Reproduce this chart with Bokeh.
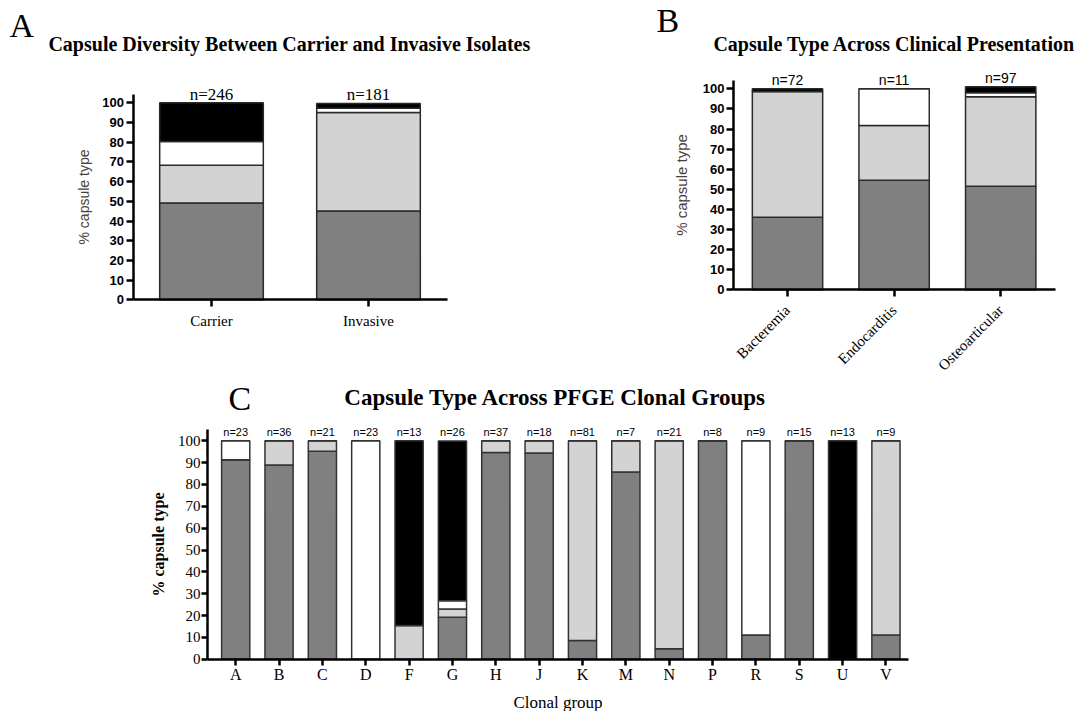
from bokeh.plotting import figure
from bokeh.layouts import column, row
from bokeh.models import ColumnDataSource, Range1d, FixedTicker, Label
from bokeh.embed import file_html
from bokeh.resources import INLINE
from bokeh.core.properties import value

layers = ["dark", "light", "white", "black"]
layer_colors = ["#808080", "#d3d3d3", "#ffffff", "#000000"]

# ---------------- Panel A data ----------------
a_groups = ["Carrier", "Invasive"]
a_n = [246, 181]
a_dark = [49.2, 45.1]
a_light = [19.1, 50.0]
a_white = [12.0, 2.1]
a_black = [19.7, 2.5]

# ---------------- Panel B data ----------------
b_groups = ["Bacteremia", "Endocarditis", "Osteoarticular"]
b_n = [72, 11, 97]
b_dark = [36.1, 54.5, 51.5]
b_light = [62.5, 27.3, 44.5]
b_white = [0.0, 18.2, 2.0]
b_black = [1.4, 0.0, 3.0]

# ---------------- Panel C data ----------------
c_groups = ["A", "B", "C", "D", "F", "G", "H", "J", "K", "M", "N", "P", "R", "S", "U", "V"]
c_n = [23, 36, 21, 23, 13, 26, 37, 18, 81, 7, 21, 8, 9, 15, 13, 9]
c_dark = [91.3, 88.9, 95.2, 0, 0, 19.2, 94.6, 94.4, 8.6, 85.7, 4.8, 100, 11.1, 100, 0, 11.1]
c_light = [0, 11.1, 4.8, 0, 15.4, 3.8, 5.4, 5.6, 91.4, 14.3, 95.2, 0, 0, 0, 0, 88.9]
c_white = [8.7, 0, 0, 100, 0, 3.8, 0, 0, 0, 0, 0, 0, 88.9, 0, 0, 0]
c_black = [0, 0, 0, 0, 84.6, 73.1, 0, 0, 0, 0, 0, 0, 0, 0, 100, 0]

SERIF = "Liberation Serif"
SANS = "Liberation Sans"


def make_source(groups, n, dark, light, white, black):
    x = list(range(len(groups)))
    tops = [d + l + w + b for d, l, w, b in zip(dark, light, white, black)]
    return ColumnDataSource(dict(x=x, dark=dark, light=light, white=white, black=black,
                                 top=tops, lab=["n=%d" % v for v in n]))


class Panel:
    """Figure whose frame fills its whole canvas; page pixel -> data helpers."""

    def __init__(self, X0, Y0, W, H, cat0_px, kx, zero_px, ky, axis_left_px, axis_right_px):
        self.X0, self.Y0, self.W, self.H = X0, Y0, W, H
        self.c0, self.kx, self.z0, self.ky = cat0_px, kx, zero_px, ky
        xs = self.dx(X0)
        xe = self.dx(X0 + W)
        ys = self.dy(Y0 + H)
        ye = self.dy(Y0)
        self.p = figure(width=W, height=H, x_range=Range1d(xs, xe), y_range=Range1d(ys, ye),
                        output_backend="svg", toolbar_location=None, min_border=0)
        self.axl = self.dx(axis_left_px)
        self.axr = self.dx(axis_right_px)

    def dx(self, px):
        return (px - self.c0) / self.kx

    def dy(self, py):
        return (self.z0 - py) / self.ky


def style_axes(P, groups, lw, tick_out, ytop):
    p = P.p
    p.xgrid.grid_line_color = None
    p.ygrid.grid_line_color = None
    p.outline_line_color = None
    p.background_fill_color = None
    p.border_fill_color = None
    for ax in (p.xaxis[0], p.yaxis[0]):
        ax.axis_line_width = lw
        ax.axis_line_color = "black"
        ax.major_tick_line_width = lw
        ax.major_tick_line_color = "black"
        ax.major_tick_out = tick_out
        ax.major_tick_in = 0
        ax.minor_tick_line_color = None
    xa, ya = p.xaxis[0], p.yaxis[0]
    xa.fixed_location = 0
    xa.bounds = (P.axl, P.axr)
    xa.ticker = FixedTicker(ticks=list(range(len(groups))))
    xa.major_label_overrides = {i: g for i, g in enumerate(groups)}
    ya.fixed_location = P.axl
    ya.bounds = (0, ytop)
    ya.ticker = FixedTicker(ticks=list(range(0, 101, 10)))


def add_text(P, xpx, ypx, text, size, bold=False, align="left"):
    P.p.add_layout(Label(x=P.dx(xpx), y=P.dy(ypx), text=text, text_font=SERIF,
                         text_font_size=size, text_font_style="bold" if bold else "normal",
                         text_color="black", text_align=align, text_baseline="alphabetic"))


ROW_H = 376

# ================= Panel A =================
A = Panel(0, 0, 600, ROW_H, cat0_px=211.0, kx=157.0, zero_px=299.3, ky=1.97,
          axis_left_px=132.5, axis_right_px=447.0)
srcA = make_source(a_groups, a_n, a_dark, a_light, a_white, a_black)
pA = A.p
pA.vbar_stack(layers, x="x", width=0.66, source=srcA, fill_color=layer_colors,
              line_color="#2a2a2a", line_width=1.5)
pA.text(x="x", y="top", text="lab", source=srcA, text_align="center", text_baseline="bottom",
        text_font=value(SERIF), text_font_size="17px", text_color="black", y_offset=1)
style_axes(A, a_groups, 2.5, 7, 104)
ya = pA.yaxis[0]
ya.major_label_text_font = SANS
ya.major_label_text_font_style = "bold"
ya.major_label_text_font_size = "13px"
ya.major_label_text_color = "black"
ya.major_label_standoff = 2
ya.axis_label = "% capsule type"
ya.axis_label_text_font = SANS
ya.axis_label_text_font_style = "normal"
ya.axis_label_text_font_size = "14px"
ya.axis_label_text_color = "#4a3f3a"
ya.axis_label_standoff = 8
xa = pA.xaxis[0]
xa.major_label_text_font = SERIF
xa.major_label_text_font_size = "15px"
xa.major_label_text_color = "black"
xa.major_label_standoff = 6
add_text(A, 9, 25, "A", "34px")
add_text(A, 289, 43, "Capsule Diversity Between Carrier and Invasive Isolates", "20px",
         bold=True, align="center")

# ================= Panel B =================
B = Panel(600, 0, 480, ROW_H, cat0_px=787.0, kx=106.6, zero_px=289.3, ky=2.01,
          axis_left_px=733.0, axis_right_px=1055.0)
srcB = make_source(b_groups, b_n, b_dark, b_light, b_white, b_black)
pB = B.p
pB.vbar_stack(layers, x="x", width=0.66, source=srcB, fill_color=layer_colors,
              line_color="#2a2a2a", line_width=1.5)
pB.text(x="x", y="top", text="lab", source=srcB, text_align="center", text_baseline="bottom",
        text_font=value(SANS), text_font_size="14px", text_color="black", y_offset=-1)
style_axes(B, b_groups, 2.5, 7, 104)
ya = pB.yaxis[0]
ya.major_label_text_font = SANS
ya.major_label_text_font_style = "bold"
ya.major_label_text_font_size = "13px"
ya.major_label_text_color = "black"
ya.major_label_standoff = 2
ya.axis_label = "% capsule type"
ya.axis_label_text_font = SANS
ya.axis_label_text_font_style = "normal"
ya.axis_label_text_font_size = "15px"
ya.axis_label_text_color = "#4a3f3a"
ya.axis_label_standoff = 10
xa = pB.xaxis[0]
xa.major_label_text_font = SERIF
xa.major_label_text_font_size = "15px"
xa.major_label_text_color = "black"
xa.major_label_orientation = 0.785398
xa.major_label_standoff = 11
add_text(B, 656, 20, "B", "34px")
add_text(B, 894, 43, "Capsule Type Across Clinical Presentation", "20px", bold=True, align="center")

# ================= Panel C =================
C = Panel(0, ROW_H, 1080, 335, cat0_px=235.2, kx=43.35, zero_px=658.7, ky=2.184,
          axis_left_px=207.0, axis_right_px=908.0)
srcC = make_source(c_groups, c_n, c_dark, c_light, c_white, c_black)
pC = C.p
pC.vbar_stack(layers, x="x", width=0.65, source=srcC, fill_color=layer_colors,
              line_color="#333333", line_width=1.5)
pC.text(x="x", y="top", text="lab", source=srcC, text_align="center", text_baseline="bottom",
        text_font=value(SANS), text_font_size="11px", text_color="black", y_offset=-3)
style_axes(C, c_groups, 2.5, 6, 105)
ya = pC.yaxis[0]
ya.major_label_text_font = SERIF
ya.major_label_text_font_size = "15px"
ya.major_label_text_color = "black"
ya.major_label_standoff = 1
ya.axis_label = "% capsule type"
ya.axis_label_text_font = SERIF
ya.axis_label_text_font_style = "bold"
ya.axis_label_text_font_size = "16px"
ya.axis_label_text_color = "black"
ya.axis_label_standoff = 8
xa = pC.xaxis[0]
xa.major_label_text_font = SERIF
xa.major_label_text_font_size = "16px"
xa.major_label_text_color = "black"
xa.major_label_standoff = 1
xa.axis_label = "Clonal group"
xa.axis_label_text_font = SERIF
xa.axis_label_text_font_style = "normal"
xa.axis_label_text_font_size = "17px"
xa.axis_label_text_color = "black"
xa.axis_label_standoff = 6
add_text(C, 228, 398, "C", "34px")
add_text(C, 555, 397, "Capsule Type Across PFGE Clonal Groups", "23px", bold=True, align="center")

layout = column(row(pA, pB), pC)
open("out.html", "w").write(file_html(layout, INLINE))
